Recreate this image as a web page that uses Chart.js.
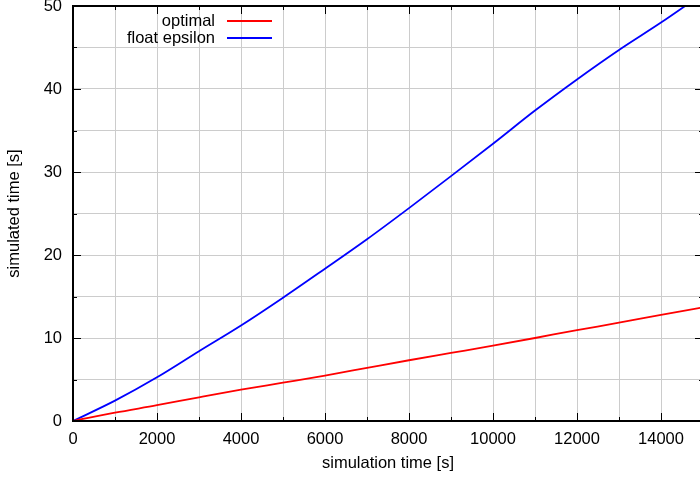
<!DOCTYPE html>
<html>
<head>
<meta charset="utf-8">
<script src="https://cdn.jsdelivr.net/npm/chart.js@4/dist/chart.umd.min.js"></script>
<style>
  html, body { margin: 0; padding: 0; background: #fff; overflow: hidden; }
  #wrap { width: 700px; height: 477px; overflow: hidden; }
  canvas { display: block; }
</style>
</head>
<body>
<div id="wrap"><canvas id="c" width="710" height="477"></canvas></div>
<script>
// Simulation time (x) in seconds
const simulationTime = [0, 1000, 2000, 3000, 4000, 5000, 6000, 7000, 8000,
                        9000, 10000, 11000, 12000, 13000, 14000, 15000];
// Simulated time (y) in seconds for each method
const optimal = [0, 1.0, 1.9, 2.85, 3.77, 4.62, 5.48, 6.4, 7.32,
                 8.2, 9.08, 10.0, 10.95, 11.84, 12.8, 13.7];
const floatEpsilon = [0, 2.45, 5.26, 8.4, 11.5, 14.85, 18.35, 21.9, 25.65,
                      29.5, 33.4, 37.4, 41.15, 44.7, 48.0, 51.5];
const seriesNames = ['optimal', 'float epsilon'];
const seriesColors = ['#ff0000', '#0000ff'];
const xLabelTicks = [0, 2000, 4000, 6000, 8000, 10000, 12000, 14000];
const yLabelTicks = [0, 10, 20, 30, 40, 50];

const FONT = '"Liberation Sans", Arial, Helvetica, sans-serif';
const FONT_SIZE = 16.5;

Chart.defaults.font.family = FONT;
Chart.defaults.font.size = FONT_SIZE;
Chart.defaults.color = '#000';

function toPoints(xs, ys) {
  return xs.map((x, i) => ({ x: x, y: ys[i] }));
}

// Draws the plot frame, inward tick marks and the key
const frameAndKey = {
  id: 'frameAndKey',
  afterDraw(chart) {
    const { ctx, chartArea: a, scales } = chart;
    const xs = scales.x, ys = scales.y;
    ctx.save();
    ctx.strokeStyle = '#000';
    ctx.lineWidth = 1;
    ctx.beginPath();
    xs.ticks.forEach(t => {
      const px = Math.round(xs.getPixelForValue(t.value)) + 0.5;
      const len = xLabelTicks.includes(t.value) ? 8 : 4;
      ctx.moveTo(px, a.bottom); ctx.lineTo(px, a.bottom - len);
      ctx.moveTo(px, a.top); ctx.lineTo(px, a.top + len);
    });
    ys.ticks.forEach(t => {
      const py = Math.round(ys.getPixelForValue(t.value)) + 0.5;
      const len = yLabelTicks.includes(t.value) ? 8 : 4;
      ctx.moveTo(a.left, py); ctx.lineTo(a.left + len, py);
      ctx.moveTo(a.right, py); ctx.lineTo(a.right - len, py);
    });
    ctx.stroke();

    ctx.lineWidth = 2;
    ctx.strokeRect(a.left, a.top, a.right - a.left, a.bottom - a.top);

    // key
    ctx.font = FONT_SIZE + 'px ' + FONT;
    ctx.textAlign = 'right';
    ctx.textBaseline = 'middle';
    chart.data.datasets.forEach((ds, i) => {
      const yy = 21 + i * 17;
      ctx.fillStyle = '#000';
      ctx.fillText(ds.label, 215, yy);
      ctx.strokeStyle = ds.borderColor;
      ctx.lineWidth = 1.8;
      ctx.beginPath();
      ctx.moveTo(227, yy); ctx.lineTo(272, yy);
      ctx.stroke();
    });
    ctx.restore();
  }
};

new Chart(document.getElementById('c'), {
  type: 'line',
  data: {
    datasets: [
      { label: seriesNames[0], data: toPoints(simulationTime, optimal),
        borderColor: seriesColors[0], borderWidth: 1.8, pointRadius: 0,
        cubicInterpolationMode: 'monotone', fill: false },
      { label: seriesNames[1], data: toPoints(simulationTime, floatEpsilon),
        borderColor: seriesColors[1], borderWidth: 1.8, pointRadius: 0,
        cubicInterpolationMode: 'monotone', fill: false }
    ]
  },
  options: {
    responsive: false,
    animation: false,
    devicePixelRatio: 1,
    layout: { padding: { top: 6, right: 7, left: 0, bottom: 0 } },
    plugins: { legend: { display: false }, tooltip: { enabled: false } },
    scales: {
      x: {
        type: 'linear', min: 0, max: 15000,
        ticks: {
          stepSize: 1000, padding: 9, maxRotation: 0, autoSkip: false,
          callback: v => xLabelTicks.includes(v) ? String(v) : ''
        },
        grid: { color: '#cccccc', lineWidth: 1, drawTicks: false },
        border: { display: false },
        title: { display: true, text: 'simulation time [s]', padding: { top: 0, bottom: 4 } },
        afterFit(s) { s.height = 56; s.paddingLeft = 0; s.paddingRight = 0; }
      },
      y: {
        type: 'linear', min: 0, max: 50,
        ticks: {
          stepSize: 5, padding: 11, autoSkip: false,
          callback: v => yLabelTicks.includes(v) ? String(v) : ''
        },
        grid: { color: '#cccccc', lineWidth: 1, drawTicks: false },
        border: { display: false },
        title: { display: true, text: 'simulated time [s]', padding: { top: 5, bottom: 0 } },
        afterFit(s) { s.width = 73; s.paddingTop = 0; s.paddingBottom = 0; }
      }
    }
  },
  plugins: [frameAndKey]
});
</script>
</body>
</html>
